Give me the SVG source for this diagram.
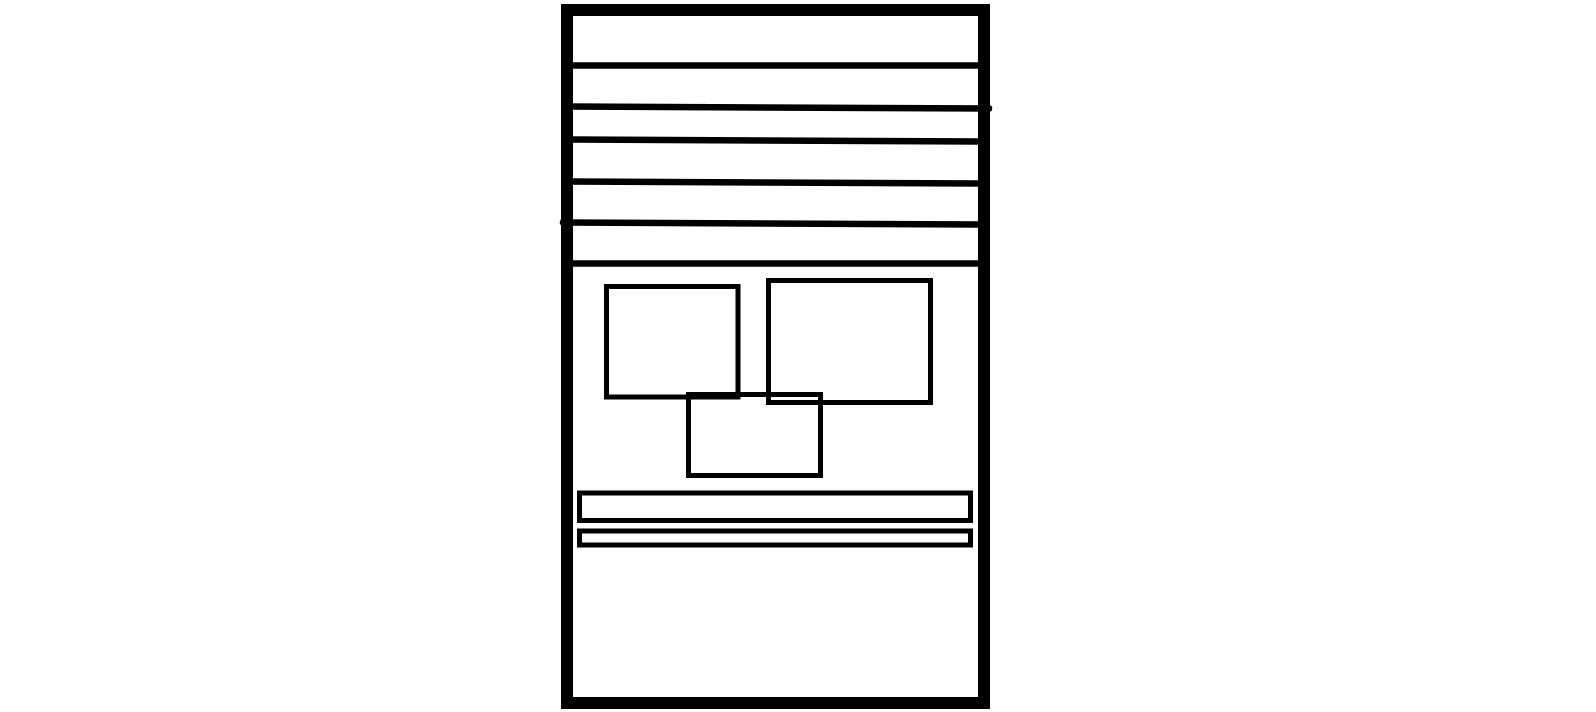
<svg xmlns="http://www.w3.org/2000/svg" width="1596" height="712" viewBox="0 0 1596 712">
<style>
.frame{fill:none;stroke:#000;stroke-width:12}
.ln{fill:none;stroke:#000;stroke-width:6.5;stroke-linecap:round}
.box{fill:none;stroke:#000;stroke-width:5}
</style>
<rect width="1596" height="712" fill="#fff"/>
<g id="frame"><rect class="frame" x="567" y="10" width="417" height="693"/></g>
<g id="connectors">
<line class="ln" x1="570" y1="65.5" x2="981" y2="65.5" style="stroke-linecap:butt"/>
<line class="ln" x1="567" y1="106.5" x2="989" y2="108.5"/>
<line class="ln" x1="570" y1="139.5" x2="981" y2="141.5" style="stroke-linecap:butt"/>
<line class="ln" x1="570" y1="181.5" x2="981" y2="183.5" style="stroke-linecap:butt"/>
<line class="ln" x1="563" y1="222.5" x2="981" y2="224.5"/>
<line class="ln" x1="570" y1="263.5" x2="981" y2="263.5" style="stroke-linecap:butt"/>
</g>
<g id="boxA"><rect class="box" x="606.5" y="286.5" width="131.5" height="110.5"/></g>
<g id="boxB"><rect class="box" x="768.5" y="280.5" width="162" height="122"/></g>
<g id="boxC"><rect class="box" x="688.5" y="394.5" width="132" height="81"/></g>
<g id="bar1"><rect class="box" x="579.5" y="493" width="391" height="27.5"/></g>
<g id="bar2"><rect class="box" x="579.5" y="531" width="391" height="14"/></g>
</svg>
